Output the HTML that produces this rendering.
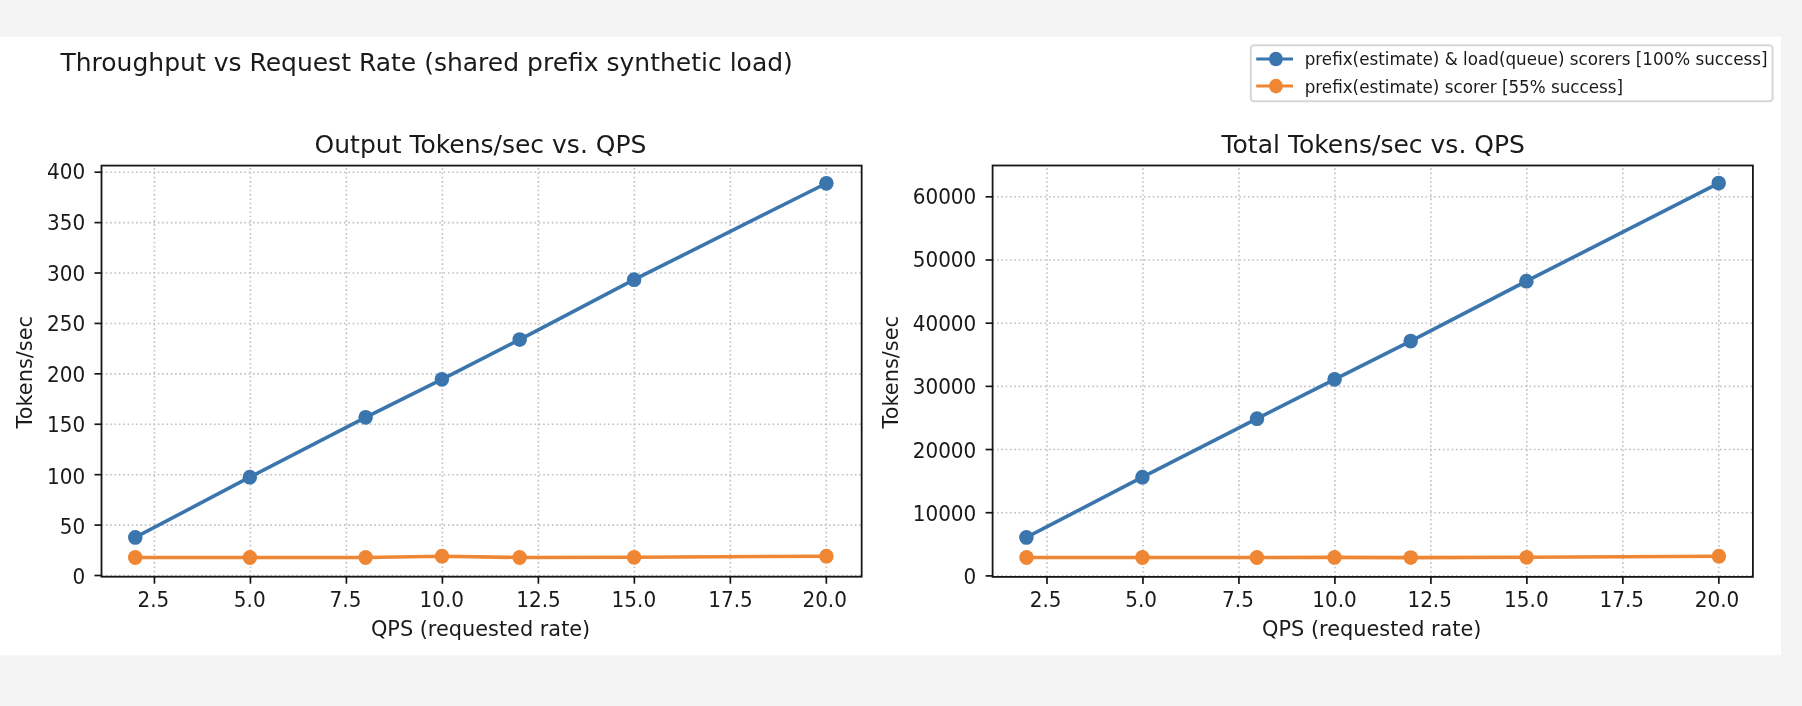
<!DOCTYPE html>
<html><head><meta charset="utf-8"><title>Throughput vs Request Rate</title>
<style>
html,body{margin:0;padding:0;background:#f4f4f4;}
svg{display:block;will-change:transform;}
text{font-family:'DejaVu Sans','Liberation Sans',sans-serif;fill:#1a1a1a;}
.grid{stroke:#c0c0c0;stroke-width:1.6;stroke-dasharray:1.6 2.73;fill:none;}
.tk{stroke:#161616;stroke-width:1.7;}
</style></head>
<body>
<svg width="1802" height="706" viewBox="0 0 1802 706">
<rect x="0" y="0" width="1802" height="706" fill="#f4f4f4"/>
<rect x="0" y="36.6" width="1780.9" height="618.7" fill="#ffffff"/>
<text x="60.48" y="70.90" font-size="25.0">Throughput vs Request Rate (shared prefix synthetic load)</text>
<line x1="154.45" y1="576.70" x2="154.45" y2="165.60" class="grid"/>
<line x1="250.43" y1="576.70" x2="250.43" y2="165.60" class="grid"/>
<line x1="346.41" y1="576.70" x2="346.41" y2="165.60" class="grid"/>
<line x1="442.40" y1="576.70" x2="442.40" y2="165.60" class="grid"/>
<line x1="538.38" y1="576.70" x2="538.38" y2="165.60" class="grid"/>
<line x1="634.36" y1="576.70" x2="634.36" y2="165.60" class="grid"/>
<line x1="730.35" y1="576.70" x2="730.35" y2="165.60" class="grid"/>
<line x1="826.33" y1="576.70" x2="826.33" y2="165.60" class="grid"/>
<line x1="101.50" y1="575.50" x2="861.67" y2="575.50" class="grid"/>
<line x1="101.50" y1="525.09" x2="861.67" y2="525.09" class="grid"/>
<line x1="101.50" y1="474.68" x2="861.67" y2="474.68" class="grid"/>
<line x1="101.50" y1="424.26" x2="861.67" y2="424.26" class="grid"/>
<line x1="101.50" y1="373.85" x2="861.67" y2="373.85" class="grid"/>
<line x1="101.50" y1="323.44" x2="861.67" y2="323.44" class="grid"/>
<line x1="101.50" y1="273.02" x2="861.67" y2="273.02" class="grid"/>
<line x1="101.50" y1="222.61" x2="861.67" y2="222.61" class="grid"/>
<line x1="101.50" y1="172.20" x2="861.67" y2="172.20" class="grid"/>
<polyline points="135.30,537.40 249.80,477.20 365.65,417.30 441.90,379.30 519.70,339.60 634.10,279.70 826.40,183.30" fill="none" stroke="#3a75ae" stroke-width="3.6" stroke-linejoin="round" stroke-linecap="square"/>
<ellipse cx="135.30" cy="537.40" rx="7.25" ry="7.4" fill="#3a75ae"/>
<ellipse cx="249.80" cy="477.20" rx="7.25" ry="7.4" fill="#3a75ae"/>
<ellipse cx="365.65" cy="417.30" rx="7.25" ry="7.4" fill="#3a75ae"/>
<ellipse cx="441.90" cy="379.30" rx="7.25" ry="7.4" fill="#3a75ae"/>
<ellipse cx="519.70" cy="339.60" rx="7.25" ry="7.4" fill="#3a75ae"/>
<ellipse cx="634.10" cy="279.70" rx="7.25" ry="7.4" fill="#3a75ae"/>
<ellipse cx="826.40" cy="183.30" rx="7.25" ry="7.4" fill="#3a75ae"/>
<polyline points="135.20,557.50 249.90,557.50 365.60,557.50 442.00,556.20 519.60,557.50 634.10,557.30 826.40,556.20" fill="none" stroke="#ee8634" stroke-width="3.6" stroke-linejoin="round" stroke-linecap="square"/>
<ellipse cx="135.20" cy="557.50" rx="7.25" ry="7.4" fill="#ee8634"/>
<ellipse cx="249.90" cy="557.50" rx="7.25" ry="7.4" fill="#ee8634"/>
<ellipse cx="365.60" cy="557.50" rx="7.25" ry="7.4" fill="#ee8634"/>
<ellipse cx="442.00" cy="556.20" rx="7.25" ry="7.4" fill="#ee8634"/>
<ellipse cx="519.60" cy="557.50" rx="7.25" ry="7.4" fill="#ee8634"/>
<ellipse cx="634.10" cy="557.30" rx="7.25" ry="7.4" fill="#ee8634"/>
<ellipse cx="826.40" cy="556.20" rx="7.25" ry="7.4" fill="#ee8634"/>
<rect x="101.50" y="165.60" width="760.17" height="411.10" fill="none" stroke="#161616" stroke-width="1.8" stroke-linejoin="miter"/>
<line x1="154.45" y1="576.70" x2="154.45" y2="583.70" class="tk"/>
<text transform="translate(137.44,607.30) scale(1,1.07)" font-size="20.0">2.5</text>
<line x1="250.43" y1="576.70" x2="250.43" y2="583.70" class="tk"/>
<text transform="translate(233.84,607.30) scale(1,1.07)" font-size="20.0">5.0</text>
<line x1="346.41" y1="576.70" x2="346.41" y2="583.70" class="tk"/>
<text transform="translate(329.60,607.30) scale(1,1.07)" font-size="20.0">7.5</text>
<line x1="442.40" y1="576.70" x2="442.40" y2="583.70" class="tk"/>
<text transform="translate(419.55,607.30) scale(1,1.07)" font-size="20.0">10.0</text>
<line x1="538.38" y1="576.70" x2="538.38" y2="583.70" class="tk"/>
<text transform="translate(516.31,607.30) scale(1,1.07)" font-size="20.0">12.5</text>
<line x1="634.36" y1="576.70" x2="634.36" y2="583.70" class="tk"/>
<text transform="translate(611.60,607.30) scale(1,1.07)" font-size="20.0">15.0</text>
<line x1="730.35" y1="576.70" x2="730.35" y2="583.70" class="tk"/>
<text transform="translate(708.21,607.30) scale(1,1.07)" font-size="20.0">17.5</text>
<line x1="826.33" y1="576.70" x2="826.33" y2="583.70" class="tk"/>
<text transform="translate(802.42,607.30) scale(1,1.07)" font-size="20.0">20.0</text>
<line x1="101.50" y1="575.50" x2="94.50" y2="575.50" class="tk"/>
<text transform="translate(72.50,584.29) scale(1,1.07)" font-size="20.0">0</text>
<line x1="101.50" y1="525.09" x2="94.50" y2="525.09" class="tk"/>
<text transform="translate(59.78,534.18) scale(1,1.07)" font-size="20.0">50</text>
<line x1="101.50" y1="474.68" x2="94.50" y2="474.68" class="tk"/>
<text transform="translate(47.06,483.56) scale(1,1.07)" font-size="20.0">100</text>
<line x1="101.50" y1="424.26" x2="94.50" y2="424.26" class="tk"/>
<text transform="translate(47.06,431.75) scale(1,1.07)" font-size="20.0">150</text>
<line x1="101.50" y1="373.85" x2="94.50" y2="373.85" class="tk"/>
<text transform="translate(47.06,381.64) scale(1,1.07)" font-size="20.0">200</text>
<line x1="101.50" y1="323.44" x2="94.50" y2="323.44" class="tk"/>
<text transform="translate(47.06,331.23) scale(1,1.07)" font-size="20.0">250</text>
<line x1="101.50" y1="273.02" x2="94.50" y2="273.02" class="tk"/>
<text transform="translate(47.06,280.91) scale(1,1.07)" font-size="20.0">300</text>
<line x1="101.50" y1="222.61" x2="94.50" y2="222.61" class="tk"/>
<text transform="translate(47.06,230.10) scale(1,1.07)" font-size="20.0">350</text>
<line x1="101.50" y1="172.20" x2="94.50" y2="172.20" class="tk"/>
<text transform="translate(47.06,179.19) scale(1,1.07)" font-size="20.0">400</text>
<text x="314.60" y="152.70" font-size="25.0">Output Tokens/sec vs. QPS</text>
<text transform="translate(370.91,635.60) scale(1,1.046)" font-size="20.85">QPS (requested rate)</text>
<text transform="translate(32.20,428.40) rotate(-90) scale(1,1.046)" font-size="20.85">Tokens/sec</text>
<line x1="1047.00" y1="576.90" x2="1047.00" y2="165.50" class="grid"/>
<line x1="1142.97" y1="576.90" x2="1142.97" y2="165.50" class="grid"/>
<line x1="1238.95" y1="576.90" x2="1238.95" y2="165.50" class="grid"/>
<line x1="1334.92" y1="576.90" x2="1334.92" y2="165.50" class="grid"/>
<line x1="1430.90" y1="576.90" x2="1430.90" y2="165.50" class="grid"/>
<line x1="1526.88" y1="576.90" x2="1526.88" y2="165.50" class="grid"/>
<line x1="1622.85" y1="576.90" x2="1622.85" y2="165.50" class="grid"/>
<line x1="1718.83" y1="576.90" x2="1718.83" y2="165.50" class="grid"/>
<line x1="992.60" y1="575.90" x2="1752.90" y2="575.90" class="grid"/>
<line x1="992.60" y1="512.72" x2="1752.90" y2="512.72" class="grid"/>
<line x1="992.60" y1="449.54" x2="1752.90" y2="449.54" class="grid"/>
<line x1="992.60" y1="386.36" x2="1752.90" y2="386.36" class="grid"/>
<line x1="992.60" y1="323.18" x2="1752.90" y2="323.18" class="grid"/>
<line x1="992.60" y1="260.00" x2="1752.90" y2="260.00" class="grid"/>
<line x1="992.60" y1="196.82" x2="1752.90" y2="196.82" class="grid"/>
<polyline points="1026.40,537.40 1142.40,477.20 1257.00,418.70 1334.60,379.30 1410.70,341.10 1526.40,281.20 1718.70,183.10" fill="none" stroke="#3a75ae" stroke-width="3.6" stroke-linejoin="round" stroke-linecap="square"/>
<ellipse cx="1026.40" cy="537.40" rx="7.25" ry="7.4" fill="#3a75ae"/>
<ellipse cx="1142.40" cy="477.20" rx="7.25" ry="7.4" fill="#3a75ae"/>
<ellipse cx="1257.00" cy="418.70" rx="7.25" ry="7.4" fill="#3a75ae"/>
<ellipse cx="1334.60" cy="379.30" rx="7.25" ry="7.4" fill="#3a75ae"/>
<ellipse cx="1410.70" cy="341.10" rx="7.25" ry="7.4" fill="#3a75ae"/>
<ellipse cx="1526.40" cy="281.20" rx="7.25" ry="7.4" fill="#3a75ae"/>
<ellipse cx="1718.70" cy="183.10" rx="7.25" ry="7.4" fill="#3a75ae"/>
<polyline points="1026.50,557.50 1142.40,557.50 1256.90,557.50 1334.50,557.40 1410.70,557.60 1526.60,557.30 1718.90,556.20" fill="none" stroke="#ee8634" stroke-width="3.6" stroke-linejoin="round" stroke-linecap="square"/>
<ellipse cx="1026.50" cy="557.50" rx="7.25" ry="7.4" fill="#ee8634"/>
<ellipse cx="1142.40" cy="557.50" rx="7.25" ry="7.4" fill="#ee8634"/>
<ellipse cx="1256.90" cy="557.50" rx="7.25" ry="7.4" fill="#ee8634"/>
<ellipse cx="1334.50" cy="557.40" rx="7.25" ry="7.4" fill="#ee8634"/>
<ellipse cx="1410.70" cy="557.60" rx="7.25" ry="7.4" fill="#ee8634"/>
<ellipse cx="1526.60" cy="557.30" rx="7.25" ry="7.4" fill="#ee8634"/>
<ellipse cx="1718.90" cy="556.20" rx="7.25" ry="7.4" fill="#ee8634"/>
<rect x="992.60" y="165.50" width="760.30" height="411.40" fill="none" stroke="#161616" stroke-width="1.8" stroke-linejoin="miter"/>
<line x1="1047.00" y1="576.90" x2="1047.00" y2="583.90" class="tk"/>
<text transform="translate(1029.74,607.30) scale(1,1.07)" font-size="20.0">2.5</text>
<line x1="1142.97" y1="576.90" x2="1142.97" y2="583.90" class="tk"/>
<text transform="translate(1125.19,607.30) scale(1,1.07)" font-size="20.0">5.0</text>
<line x1="1238.95" y1="576.90" x2="1238.95" y2="583.90" class="tk"/>
<text transform="translate(1222.10,607.30) scale(1,1.07)" font-size="20.0">7.5</text>
<line x1="1334.92" y1="576.90" x2="1334.92" y2="583.90" class="tk"/>
<text transform="translate(1312.27,607.30) scale(1,1.07)" font-size="20.0">10.0</text>
<line x1="1430.90" y1="576.90" x2="1430.90" y2="583.90" class="tk"/>
<text transform="translate(1407.41,607.30) scale(1,1.07)" font-size="20.0">12.5</text>
<line x1="1526.88" y1="576.90" x2="1526.88" y2="583.90" class="tk"/>
<text transform="translate(1504.10,607.30) scale(1,1.07)" font-size="20.0">15.0</text>
<line x1="1622.85" y1="576.90" x2="1622.85" y2="583.90" class="tk"/>
<text transform="translate(1599.46,607.30) scale(1,1.07)" font-size="20.0">17.5</text>
<line x1="1718.83" y1="576.90" x2="1718.83" y2="583.90" class="tk"/>
<text transform="translate(1694.77,607.30) scale(1,1.07)" font-size="20.0">20.0</text>
<line x1="992.60" y1="575.90" x2="985.60" y2="575.90" class="tk"/>
<text transform="translate(963.60,584.19) scale(1,1.07)" font-size="20.0">0</text>
<line x1="992.60" y1="512.72" x2="985.60" y2="512.72" class="tk"/>
<text transform="translate(912.70,520.61) scale(1,1.07)" font-size="20.0">10000</text>
<line x1="992.60" y1="449.54" x2="985.60" y2="449.54" class="tk"/>
<text transform="translate(912.70,457.73) scale(1,1.07)" font-size="20.0">20000</text>
<line x1="992.60" y1="386.36" x2="985.60" y2="386.36" class="tk"/>
<text transform="translate(912.70,393.80) scale(1,1.07)" font-size="20.0">30000</text>
<line x1="992.60" y1="323.18" x2="985.60" y2="323.18" class="tk"/>
<text transform="translate(912.70,330.77) scale(1,1.07)" font-size="20.0">40000</text>
<line x1="992.60" y1="260.00" x2="985.60" y2="260.00" class="tk"/>
<text transform="translate(912.70,266.89) scale(1,1.07)" font-size="20.0">50000</text>
<line x1="992.60" y1="196.82" x2="985.60" y2="196.82" class="tk"/>
<text transform="translate(912.70,204.21) scale(1,1.07)" font-size="20.0">60000</text>
<text x="1221.56" y="152.70" font-size="25.0">Total Tokens/sec vs. QPS</text>
<text transform="translate(1262.11,635.60) scale(1,1.046)" font-size="20.85">QPS (requested rate)</text>
<text transform="translate(897.90,428.40) rotate(-90) scale(1,1.046)" font-size="20.85">Tokens/sec</text>
<rect x="1250.8" y="45.2" width="521.8" height="56.0" rx="3.3" ry="3.3" fill="#fff" stroke="#d6d6d6" stroke-width="2"/>
<line x1="1256.2" y1="59.00" x2="1293.0" y2="59.00" stroke="#3a75ae" stroke-width="3.0"/>
<ellipse cx="1275.9" cy="59.00" rx="6.9" ry="7.3" fill="#3a75ae"/>
<text x="1304.68" y="65.40" font-size="16.75">prefix(estimate) &amp; load(queue) scorers [100% success]</text>
<line x1="1256.2" y1="86.10" x2="1293.0" y2="86.10" stroke="#ee8634" stroke-width="3.0"/>
<ellipse cx="1275.9" cy="86.10" rx="6.9" ry="7.3" fill="#ee8634"/>
<text x="1304.68" y="92.50" font-size="16.75">prefix(estimate) scorer [55% success]</text>
</svg>
</body></html>
